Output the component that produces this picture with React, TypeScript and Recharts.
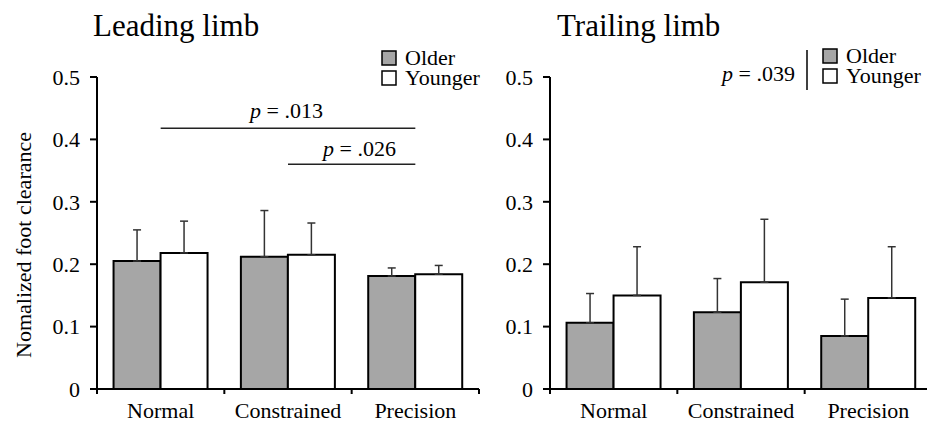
import React from 'react';
import { BarChart, Bar, XAxis, YAxis, ErrorBar, ReferenceLine } from 'recharts';

const conditions = ['Normal', 'Constrained', 'Precision'];
const yTicks = [0, 0.1, 0.2, 0.3, 0.4, 0.5];

// leading limb
const leadOlder = [0.205, 0.212, 0.181];
const leadYounger = [0.218, 0.215, 0.184];
const leadOlderSd = [0.05, 0.074, 0.013];
const leadYoungerSd = [0.051, 0.051, 0.014];

// trailing limb
const trailOlder = [0.106, 0.123, 0.085];
const trailYounger = [0.15, 0.171, 0.146];
const trailOlderSd = [0.047, 0.054, 0.059];
const trailYoungerSd = [0.078, 0.101, 0.082];

const FONT = '"Liberation Serif", "Times New Roman", serif';
const GREY = '#a6a6a6';

const buildRows = (older: number[], younger: number[], oSd: number[], ySd: number[]) =>
  conditions.map((cond, i) => ({
    cond,
    older: older[i],
    younger: younger[i],
    olderErr: [0, oSd[i]],
    youngerErr: [0, ySd[i]],
  }));

const leadRows = buildRows(leadOlder, leadYounger, leadOlderSd, leadYoungerSd);
const trailRows = buildRows(trailOlder, trailYounger, trailOlderSd, trailYoungerSd);

// label at band centre, tick marks at band edges
const CondTick = (props: any) => {
  const { x, y, payload, index, width, visibleTicksCount } = props;
  const bw = width / (visibleTicksCount || 3);
  const last = index === (visibleTicksCount || 3) - 1;
  return (
    <g>
      <line x1={x - bw / 2} x2={x - bw / 2} y1={y} y2={y + 5} stroke="#000" strokeWidth={2} />
      {last && <line x1={x + bw / 2} x2={x + bw / 2} y1={y} y2={y + 5} stroke="#000" strokeWidth={2} />}
      <text x={x} y={y + 29} textAnchor="middle" fontSize={22} fontFamily={FONT} fill="#000">
        {payload.value}
      </text>
    </g>
  );
};

const Panel = ({ rows, children }: { rows: any[]; children?: React.ReactNode }) => (
  <BarChart
    width={480}
    height={426}
    data={rows}
    margin={{ top: 77, right: 1, left: 0, bottom: 7 }}
    barCategoryGap="13%"
    barGap={0}
  >
    <XAxis
      dataKey="cond"
      interval={0}
      height={30}
      tickSize={0}
      tickMargin={0}
      tickLine={false}
      axisLine={{ stroke: '#000', strokeWidth: 2 }}
      tick={<CondTick />}
    />
    <YAxis
      width={97}
      domain={[0, 0.5]}
      ticks={yTicks}
      interval={0}
      tickSize={7}
      tickMargin={10}
      tickFormatter={(v: number) => (v === 0 ? '0' : v.toFixed(1))}
      axisLine={{ stroke: '#000', strokeWidth: 2 }}
      tickLine={{ stroke: '#000', strokeWidth: 2 }}
      tick={{ fill: '#000', fontSize: 22, fontFamily: FONT }}
    />
    <Bar dataKey="older" fill={GREY} stroke="#000" strokeWidth={2} isAnimationActive={false}>
      <ErrorBar dataKey="olderErr" width={4} stroke="#333" strokeWidth={1.5} direction="y" />
    </Bar>
    <Bar dataKey="younger" fill="#fff" stroke="#000" strokeWidth={2} isAnimationActive={false}>
      <ErrorBar dataKey="youngerErr" width={4} stroke="#333" strokeWidth={1.5} direction="y" />
    </Bar>
    {children}
  </BarChart>
);

const PText = ({ x, y, val }: { x: number; y: number; val: string }) => (
  <text x={x} y={y} fontSize={22} fontFamily={FONT} fill="#000">
    <tspan fontStyle="italic">p</tspan> = {val}
  </text>
);

const LegendBox = ({ x, y }: { x: number; y: number }) => (
  <g>
    <rect x={x} y={y} width={14} height={14} fill={GREY} stroke="#000" strokeWidth={1.5} />
    <text x={x + 23} y={y + 14} fontSize={22} fontFamily={FONT} fill="#000">Older</text>
    <rect x={x} y={y + 20} width={14} height={14} fill="#fff" stroke="#000" strokeWidth={1.5} />
    <text x={x + 23} y={y + 34} fontSize={22} fontFamily={FONT} fill="#000">Younger</text>
  </g>
);

export default function App() {
  return (
    <div
      style={{
        position: 'absolute',
        left: 0,
        top: 0,
        width: 927,
        height: 426,
        overflow: 'hidden',
        background: '#fff',
        fontFamily: FONT,
      }}
    >
      <div style={{ position: 'absolute', left: 0, top: 0 }}>
        <Panel rows={leadRows}>
          <ReferenceLine
            segment={[{ x: 'Normal', y: 0.418 }, { x: 'Precision', y: 0.418 }]}
            stroke="#222"
            strokeWidth={1.5}
          />
          <ReferenceLine
            segment={[{ x: 'Constrained', y: 0.36 }, { x: 'Precision', y: 0.36 }]}
            stroke="#222"
            strokeWidth={1.5}
          />
        </Panel>
      </div>
      <div style={{ position: 'absolute', left: 453, top: 0 }}>
        <Panel rows={trailRows} />
      </div>
      <svg
        width={927}
        height={426}
        style={{ position: 'absolute', left: 0, top: 0, pointerEvents: 'none' }}
      >
        <text x={93} y={36} fontSize={31} fontFamily={FONT} fill="#000">Leading limb</text>
        <text x={557} y={36} fontSize={31} fontFamily={FONT} fill="#000">Trailing limb</text>
        <text
          transform="translate(31,245) rotate(-90)"
          textAnchor="middle"
          fontSize={22}
          fontFamily={FONT}
          fill="#000"
        >
          Nomalized foot clearance
        </text>
        <LegendBox x={382} y={51} />
        <LegendBox x={823} y={49} />
        <PText x={250} y={118} val=".013" />
        <PText x={323} y={156} val=".026" />
        <PText x={722} y={81} val=".039" />
        <line x1={807} x2={807} y1={50} y2={90} stroke="#000" strokeWidth={1.5} />
      </svg>
    </div>
  );
}
